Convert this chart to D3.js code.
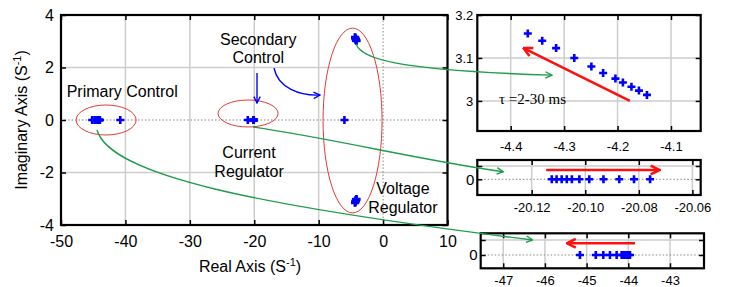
<html>
<head>
<script src="https://d3js.org/d3.v7.min.js"></script>
<style>
  body { margin: 0; background: #fff; }
  text { font-family: "Liberation Sans", Arial, sans-serif; }
</style>
</head>
<body>
<svg id="svg" width="732" height="287"></svg>
<script>
// **** Data ****
// time constant sweep tau = 2..30 ms, upper voltage regulator pole
const vrRe = [-4.368, -4.341, -4.315, -4.281, -4.249, -4.227, -4.204, -4.190, -4.174, -4.160, -4.145]
const vrIm = [3.157, 3.140, 3.123, 3.100, 3.080, 3.065, 3.052, 3.043, 3.033, 3.024, 3.014]
// current regulator pole (real)
const crRe = [-20.1125, -20.1107, -20.1088, -20.1069, -20.1050, -20.1022, -20.0985, -20.0932, -20.0873, -20.0818, -20.0758]
// primary control pole (real)
const pcRe = [-45.16, -44.78, -44.60, -44.44, -44.28, -44.16, -44.12, -44.08, -44.04, -44.00, -43.96]
// other real poles seen in the main map
const otherRe = [-40.8, -21.0, -6.0]

const mainXTicks = [-50, -40, -30, -20, -10, 0, 10]
const mainYTicks = [-4, -2, 0, 2, 4]
const in1XTicks = [-4.4, -4.3, -4.2, -4.1]
const in1YTicks = [3, 3.1, 3.2]
const in2XTicks = [-20.12, -20.10, -20.08, -20.06]
const in3XTicks = [-47, -46, -45, -44, -43]

const blue = '#0000ff', green = '#1f9d4c', red = '#ff1010', grid = '#cdcdcd'

const svg = d3.select('#svg')

// **** Markers ****
const defs = svg.append('defs')
function marker(id, color, size, sw) {
  defs.append('marker')
    .attr('id', id).attr('viewBox', '0 0 10 10')
    .attr('refX', 9).attr('refY', 5)
    .attr('markerWidth', size).attr('markerHeight', size)
    .attr('markerUnits', 'userSpaceOnUse').attr('orient', 'auto')
    .append('path').attr('d', 'M1,1 L9,5 L1,9')
    .attr('fill', 'none').attr('stroke', color)
    .attr('stroke-width', sw * 10 / size)
}
marker('mg', green, 8, 1.4)
marker('mb', blue, 8, 1.4)
marker('mr', red, 11, 2.6)

// **** Panels ****
function panel(o) {
  const x = d3.scaleLinear().domain(o.xd).range(o.xr)
  const y = d3.scaleLinear().domain(o.yd).range(o.yr)
  const g = svg.append('g')
  // grid
  g.selectAll('.gx').data(o.xt.filter(v => v !== 0 || !o.zeroX)).enter().append('line')
    .attr('x1', d => x(d)).attr('x2', d => x(d)).attr('y1', o.yr[0]).attr('y2', o.yr[1])
    .attr('stroke', grid).attr('stroke-width', 1.5)
  g.selectAll('.gy').data(o.yt.filter(v => v !== 0)).enter().append('line')
    .attr('y1', d => y(d)).attr('y2', d => y(d)).attr('x1', o.xr[0]).attr('x2', o.xr[1])
    .attr('stroke', grid).attr('stroke-width', 1.5)
  // dotted zero lines
  if (o.yt.includes(0)) {
    g.append('line').attr('x1', o.xr[0]).attr('x2', o.xr[1]).attr('y1', y(0)).attr('y2', y(0))
      .attr('stroke', '#888').attr('stroke-width', 1).attr('stroke-dasharray', '1.5,2')
  }
  if (o.zeroX) {
    g.append('line').attr('x1', x(0)).attr('x2', x(0)).attr('y1', o.yr[0]).attr('y2', o.yr[1])
      .attr('stroke', '#888').attr('stroke-width', 1).attr('stroke-dasharray', '1.5,2')
  }
  // axes, ticks pointing inward on all sides
  const ax = (a, tr) => {
    const s = g.append('g').attr('transform', tr).call(a)
    s.select('.domain').remove()
    s.selectAll('line').attr('stroke', '#000').attr('stroke-width', 1.5)
    s.selectAll('text').attr('fill', '#000').style('font-size', o.fs + 'px')
    return s
  }
  ax(d3.axisBottom(x).tickValues(o.xt).tickSizeInner(-5).tickSizeOuter(0).tickPadding(o.xpad)
      .tickFormat(o.xf || (d => d)), `translate(0,${o.yr[0]})`)
  ax(d3.axisTop(x).tickValues(o.xt).tickSizeInner(-5).tickSizeOuter(0).tickFormat(''), `translate(0,${o.yr[1]})`)
  const yl = ax(d3.axisLeft(y).tickValues(o.yt).tickSizeInner(-5).tickSizeOuter(0).tickPadding(o.ypad)
      .tickFormat(o.yf || (d => d)), `translate(${o.xr[0]},0)`)
  if (o.yfs) yl.selectAll('text').style('font-size', o.yfs + 'px')
  ax(d3.axisRight(y).tickValues(o.yt).tickSizeInner(-5).tickSizeOuter(0).tickFormat(''), `translate(${o.xr[1]},0)`)
  // frame
  g.append('rect').attr('x', o.xr[0]).attr('y', o.yr[1])
    .attr('width', o.xr[1] - o.xr[0]).attr('height', o.yr[0] - o.yr[1])
    .attr('fill', 'none').attr('stroke', '#000').attr('stroke-width', 2.2)
  return { x, y, g }
}

function crosses(p, pts) {
  p.g.selectAll('.pt').data(pts).enter().append('path')
    .attr('d', d => `M${p.x(d[0]) - 4},${p.y(d[1])}h8M${p.x(d[0])},${p.y(d[1]) - 4}v8`)
    .attr('stroke', blue).attr('stroke-width', 2.6).attr('fill', 'none')
}

// main pole-zero map
const M = panel({ xd: [-50, 10], xr: [61, 447.5], yd: [-4, 4], yr: [225, 15],
  xt: mainXTicks, yt: mainYTicks, zeroX: true, fs: 16, xpad: 11, ypad: 7 })
const mainPts = []
vrRe.forEach((r, i) => { mainPts.push([r, vrIm[i]]); mainPts.push([r, -vrIm[i]]) })
crRe.forEach(r => mainPts.push([r, 0]))
pcRe.forEach(r => mainPts.push([r, 0]))
otherRe.forEach(r => mainPts.push([r, 0]))
crosses(M, mainPts)

// insets
const I1 = panel({ xd: [-4.4625, -4.0444], xr: [477.3, 700.7], yd: [2.93, 3.2], yr: [131, 15],
  xt: in1XTicks, yt: in1YTicks, fs: 13, xpad: 11, ypad: 4, yf: d => d === 3 ? '3' : d.toFixed(1) })
crosses(I1, vrRe.map((r, i) => [r, vrIm[i]]))

const I2 = panel({ xd: [-20.1403, -20.0569], xr: [477.3, 700.7], yd: [-1.18, 1.451], yr: [195, 160],
  xt: in2XTicks, yt: [0, 1], fs: 13, yfs: 15, xpad: 7.5, ypad: 3,
  xf: d => d.toFixed(2), yf: d => d === 0 ? '0' : '' })
crosses(I2, crRe.map(r => [r, 0]))

const I3 = panel({ xd: [-47.54, -42.185], xr: [480.7, 704], yd: [-0.887, 1.447], yr: [268.3, 233.3],
  xt: in3XTicks, yt: [0, 1], fs: 13, yfs: 15, xpad: 7.5, ypad: 3, yf: d => d === 0 ? '0' : '' })
crosses(I3, pcRe.map(r => [r, 0]))

// **** Axis labels ****
const lab = svg.append('text').attr('x', 250).attr('y', 272).attr('text-anchor', 'middle').style('font-size', '16px')
lab.append('tspan').text('Real Axis (S')
lab.append('tspan').text('-1').attr('dy', -6).style('font-size', '11px')
lab.append('tspan').text(')').attr('dy', 6)
const ylab = svg.append('text').attr('transform', 'translate(27,120) rotate(-90)').attr('text-anchor', 'middle').style('font-size', '16px')
ylab.append('tspan').text('Imaginary Axis (S')
ylab.append('tspan').text('-1').attr('dy', -6).style('font-size', '11px')
ylab.append('tspan').text(')').attr('dy', 6)

// **** Annotations ****
const ellipses = [
  { cx: -43.0, cy: 0, rx: 4.66, ry: 0.571 },
  { cx: -20.96, cy: 0.248, rx: 4.66, ry: 0.514 },
  { cx: -4.74, cy: -0.02, rx: 4.58, ry: 3.52 }
]
svg.selectAll('.el').data(ellipses).enter().append('ellipse')
  .attr('cx', d => M.x(d.cx)).attr('cy', d => M.y(d.cy))
  .attr('rx', d => M.x(d.rx) - M.x(0)).attr('ry', d => M.y(0) - M.y(d.ry))
  .attr('fill', 'none').attr('stroke', '#e23a3a').attr('stroke-width', 1)

const labels = [
  { t: 'Primary Control', x: -49.12, y: 0.888, a: 'start' },
  { t: 'Secondary', x: -19.37, y: 2.857, a: 'middle' },
  { t: 'Control', x: -19.37, y: 2.171, a: 'middle' },
  { t: 'Current', x: -20.81, y: -1.448, a: 'middle' },
  { t: 'Regulator', x: -20.81, y: -2.171, a: 'middle' },
  { t: 'Voltage', x: -1.07, y: -2.819, a: 'start' },
  { t: 'Regulator', x: -2.31, y: -3.543, a: 'start' }
]
svg.selectAll('.lb').data(labels).enter().append('text')
  .attr('x', d => M.x(d.x)).attr('y', d => M.y(d.y)).attr('text-anchor', d => d.a)
  .style('font-size', '16px').text(d => d.t)

// blue arrows
svg.append('line').attr('x1', M.x(-19.57)).attr('x2', M.x(-19.57)).attr('y1', M.y(1.79)).attr('y2', M.y(0.648))
  .attr('stroke', blue).attr('stroke-width', 1.4).attr('marker-end', 'url(#mb)')
svg.append('path')
  .attr('d', `M${M.x(-16.93)},${M.y(1.98)} C${M.x(-16.31)},${M.y(1.22)} ${M.x(-12.9)},${M.y(0.914)} ${M.x(-9.8)},${M.y(0.952)}`)
  .attr('fill', 'none').attr('stroke', blue).attr('stroke-width', 1.4).attr('marker-end', 'url(#mb)')

// green connectors (main -> insets)
const gcurve = (s, c1, c2, e) => svg.append('path')
  .attr('d', `M${s[0]},${s[1]} C${c1[0]},${c1[1]} ${c2[0]},${c2[1]} ${e[0]},${e[1]}`)
  .attr('fill', 'none').attr('stroke', green).attr('stroke-width', 1.4).attr('marker-end', 'url(#mg)')
const mp = (a, b) => [M.x(a), M.y(b)]
gcurve(mp(-4.2, 2.9), mp(-3.38, 2.362), mp(1.0, 1.905), [I1.x(-4.323), I1.y(3.060)])
gcurve(mp(-20.2, -0.267), mp(-8.26, -0.686), mp(7.28, -1.6), [I2.x(-20.1306), I2.y(0.571)])
gcurve(mp(-44.41, -0.381), mp(-42.39, -2.095), mp(-20.66, -3.238), [I3.x(-46.295), I3.y(1.0)])

// red trend arrows in insets
const rarrow = (p, x1, y1, x2, y2) => svg.append('line')
  .attr('x1', p.x(x1)).attr('y1', p.y(y1)).attr('x2', p.x(x2)).attr('y2', p.y(y2))
  .attr('stroke', red).attr('stroke-width', 2.6).attr('marker-end', 'url(#mr)')
rarrow(I1, -4.177, 3.0, -4.376, 3.123)
rarrow(I2, -20.1146, 0.70, -20.0723, 0.70)
rarrow(I3, -43.84, 0.78, -45.47, 0.78)

svg.append('text').attr('x', I1.x(-4.4219)).attr('y', I1.y(2.993))
  .style('font-family', '"Liberation Serif", "Times New Roman", serif').style('font-size', '15px')
  .text('\u03c4 =2-30 ms')
</script>
</body>
</html>
